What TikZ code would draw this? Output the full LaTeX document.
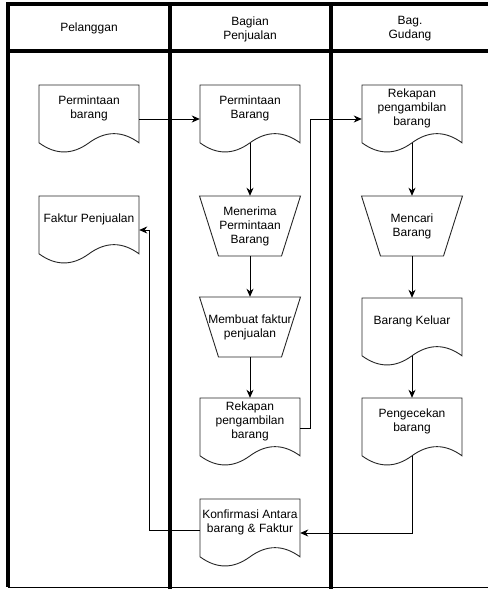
\documentclass[tikz,border=0pt]{standalone}
\usepackage{fontspec}
\setmainfont{Liberation Sans}
\usetikzlibrary{arrows.meta}

\tikzset{
  lane/.style={line width=4pt},
  shapeline/.style={draw=black!85, line width=0.9pt},
  doc/.style={minimum width=100pt, minimum height=68pt, inner sep=0pt},
  doctext/.style={align=center, yshift=11pt, inner sep=0pt},
  proc/.style={minimum width=101pt, minimum height=60pt, inner sep=0pt, align=center},
  head/.style={align=center},
  flow/.style={line width=0.9pt, -{Stealth[length=8pt, width=7pt, inset=2.5pt]}},
}

% document outline (wavy bottom) round a doc node
\newcommand{\docline}[1]{%
  \draw[shapeline, shift={(#1.center)}] (-50,-34) -- (50,-34) -- (50,23.8)
    .. controls (33.3,11.6) and (16.7,11.6) .. (0,23.8)
    .. controls (-16.7,36) and (-33.3,36) .. (-50,23.8) -- cycle;}
% manual operation outline round a proc node
\newcommand{\procline}[1]{%
  \draw[shapeline, shift={(#1.center)}] (-50.5,-30) -- (50.5,-30) -- (31.5,30) -- (-31.5,30) -- cycle;}

\begin{document}
\begin{tikzpicture}[x=1pt, y=-1pt, font=\fontsize{12pt}{14pt}\selectfont]
        \useasboundingbox (0,0) rectangle (488,589);

        % lanes
        \draw[lane] (488,4) -- (8,4) -- (8,587);
        \draw[lane] (8,51) -- (488,51);
        \draw[lane] (170,4) -- (170,589);
        \draw[lane] (331,4) -- (331,589);
        \draw[line width=1pt] (8,587.5) -- (488,587.5);

        \node[head] (h1) at (89,28) {Pelanggan};
        \node[head] (h2) at (250,29) {Bagian\\Penjualan};
        \node[head] (h3) at (410,29) {Bag.\\Gudang};

        % Pelanggan
        \node[doc, label={[doctext]center:Permintaan\\barang}] (pb) at (89,119) {};
        \docline{pb}
        \node[doc, label={[doctext]center:Faktur Penjualan}] (fj) at (89,230) {};
        \docline{fj}

        % Bagian Penjualan
        \node[doc, label={[doctext]center:Permintaan\\Barang}] (pm) at (250,119) {};
        \docline{pm}
        \node[proc] (mp) at (250,226) {Menerima\\Permintaan\\Barang};
        \procline{mp}
        \node[proc] (mf) at (250,327) {Membuat faktur\\penjualan};
        \procline{mf}
        \node[doc, label={[doctext]center:Rekapan\\pengambilan\\barang}] (rm) at (250,432) {};
        \docline{rm}
        \node[doc, label={[doctext]center:Konfirmasi Antara\\barang \& Faktur}] (kf) at (250,533) {};
        \docline{kf}

        % Bag. Gudang
        \node[doc, label={[doctext]center:Rekapan\\pengambilan\\barang}] (rg) at (412,119) {};
        \docline{rg}
        \node[proc] (mc) at (412,226) {Mencari\\Barang};
        \procline{mc}
        \node[doc, label={[doctext]center:Barang Keluar}] (bk) at (412,332) {};
        \docline{bk}
        \node[doc, label={[doctext]center:Pengecekan\\barang}] (pc) at (412,432) {};
        \docline{pc}

        % flows
        \draw[flow] (pb) -- (pm);
        \draw[flow] ([yshift=10pt]pm.south) -- (mp);
        \draw[flow] (mp) -- (mf);
        \draw[flow] (mf) -- (rm);
        \draw[flow] ([yshift=4pt]rm.east) -- ++(10.5,0) |- (rg);
        \draw[flow] ([yshift=10pt]rg.south) -- (mc);
        \draw[flow] (mc) -- (bk);
        \draw[flow] ([yshift=10pt]bk.south) -- (pc);
        \draw[flow] ([yshift=10pt]pc.south) |- (kf);
        \draw[flow] ([yshift=3pt]kf.west) -- ++(-50.5,0) |- (fj);
      \end{tikzpicture}
\end{document}
